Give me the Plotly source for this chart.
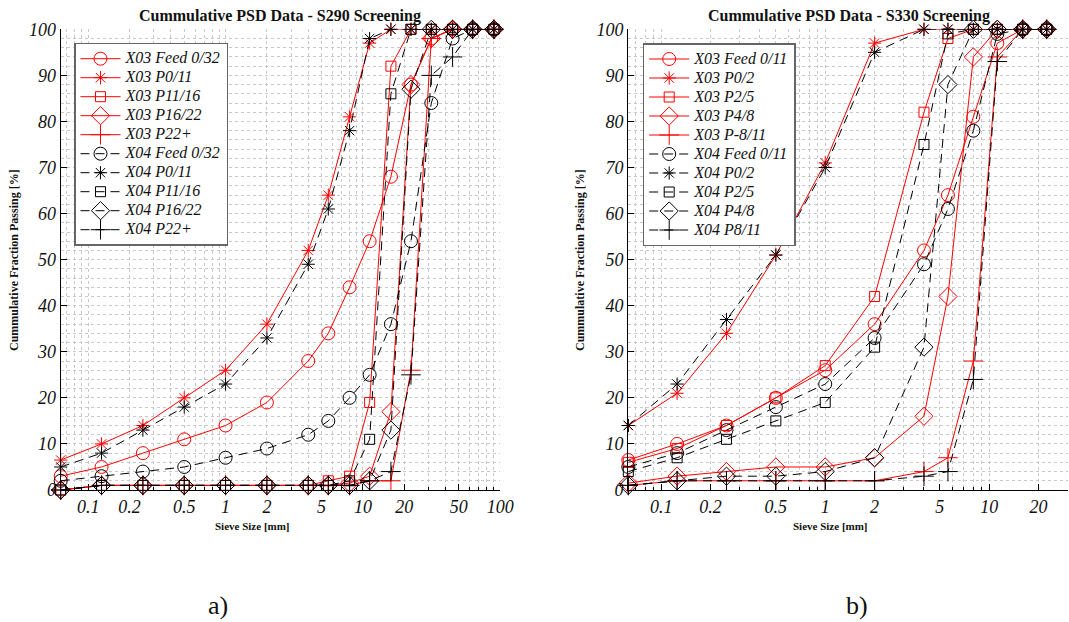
import math
import plotly.graph_objects as go

# Sieve apertures [mm]
sieve_s290 = [0.063, 0.125, 0.25, 0.5, 1, 2, 4, 5.6, 8, 11.2, 16, 22.4, 31.5, 45, 63, 90]
sieve_s330 = [0.063, 0.125, 0.25, 0.5, 1, 2, 4, 5.6, 8, 11.2, 16, 22.4]

# S290 screening - cumulative passing [%]
x03_feed_0_32 = [3, 5, 8, 11, 14, 19, 28, 34, 44, 54, 68, 88, 98, 100, 100, 100]
x03_p0_11 = [6.5, 10, 14, 20, 26, 36, 52, 64, 81, 97, 100, 100, 100, 100, 100, 100]
x03_p11_16 = [0, 1, 1, 1, 1, 1, 1, 2, 3, 19, 92, 100, 100, 100, 100, 100]
x03_p16_22 = [0, 1, 1, 1, 1, 1, 1, 1, 1.5, 3, 17, 88, 98, 100, 100, 100]
x03_p22p = [0, 1, 1, 1, 1, 1, 1, 1, 1, 2, 2, 26, 98, 100, 100, 100]
x04_feed_0_32 = [2, 3, 4, 5, 7, 9, 12, 15, 20, 25, 36, 54, 84, 98, 100, 100]
x04_p0_11 = [5, 8, 13, 18, 23, 33, 49, 61, 78, 98, 100, 100, 100, 100, 100, 100]
x04_p11_16 = [0, 1, 1, 1, 1, 1, 1, 1, 2, 11, 86, 100, 100, 100, 100, 100]
x04_p16_22 = [0, 1, 1, 1, 1, 1, 1, 1, 1, 2, 13, 87, 100, 100, 100, 100]
x04_p22p = [0, 1, 1, 1, 1, 1, 1, 1, 1, 2, 4, 25, 90, 94, 100, 100]

# S330 screening - cumulative passing [%]
x03_feed_0_11 = [6.5, 10, 14, 20, 26, 36, 52, 64, 81, 97, 100, 100]
x03_p0_2 = [14, 21, 34, 51, 71, 97, 100, 100, 100, 100, 100, 100]
x03_p2_5 = [6, 9, 14, 20, 27, 42, 82, 98, 100, 100, 100, 100]
x03_p4_8 = [1.5, 3, 4, 5, 5, 7, 16, 42, 94, 100, 100, 100]
x03_p8_11 = [1, 2, 2, 2, 2, 2, 4, 7, 28, 94, 100, 100]
x04_feed_0_11 = [5, 8, 13, 18, 23, 33, 49, 61, 78, 99, 100, 100]
x04_p0_2 = [14, 23, 37, 51, 70, 95, 100, 100, 100, 100, 100, 100]
x04_p2_5 = [4, 7, 11, 15, 19, 31, 75, 99, 100, 100, 100, 100]
x04_p4_8 = [1, 2, 3, 3, 4, 7, 31, 88, 100, 100, 100, 100]
x04_p8_11 = [1, 2, 2, 2, 2, 2, 3, 4, 24, 93, 100, 100]

labels_s290 = ["X03 Feed 0/32", "X03 P0/11", "X03 P11/16", "X03 P16/22", "X03 P22+",
               "X04 Feed 0/32", "X04 P0/11", "X04 P11/16", "X04 P16/22", "X04 P22+"]
labels_s330 = ["X03 Feed 0/11", "X03 P0/2", "X03 P2/5", "X03 P4/8", "X03 P-8/11",
               "X04 Feed 0/11", "X04 P0/2", "X04 P2/5", "X04 P4/8", "X04 P8/11"]

series_s290 = [x03_feed_0_32, x03_p0_11, x03_p11_16, x03_p16_22, x03_p22p,
               x04_feed_0_32, x04_p0_11, x04_p11_16, x04_p16_22, x04_p22p]
series_s330 = [x03_feed_0_11, x03_p0_2, x03_p2_5, x03_p4_8, x03_p8_11,
               x04_feed_0_11, x04_p0_2, x04_p2_5, x04_p4_8, x04_p8_11]

x_ticks_s290 = [0.1, 0.2, 0.5, 1, 2, 5, 10, 20, 50, 100]
x_ticks_s330 = [0.1, 0.2, 0.5, 1, 2, 5, 10, 20]
y_ticks = [0, 10, 20, 30, 40, 50, 60, 70, 80, 90, 100]

symbols = ["circle-open", "asterisk-open", "square-open", "diamond-open", "cross-thin-open"]
sizes = [13, 11, 10, 14, 14]

W, H = 1069, 622
SERIF = "Liberation Serif"
LEGEND_TEXT_PX = 16

fig = go.Figure()


def add_panel(sieve, series, labels, xaxis, yaxis, legend):
    for i, (vals, name) in enumerate(zip(series, labels)):
        k = i % 5
        x03 = i < 5
        color = "#ff0000" if x03 else "#000000"
        fig.add_trace(go.Scatter(
            x=sieve, y=vals, mode="lines+markers",
            name=f'<span style="font-size:{LEGEND_TEXT_PX}px">{name}</span>',
            xaxis=xaxis, yaxis=yaxis, legend=legend, cliponaxis=False,
            line=dict(color=color, width=1, dash="solid" if x03 else "9px,6px"),
            marker=dict(symbol=symbols[k], size=sizes[k], color=color,
                        line=dict(color=color, width=1)),
        ))


add_panel(sieve_s290, series_s290, labels_s290, "x", "y", "legend")
add_panel(sieve_s330, series_s330, labels_s330, "x2", "y2", "legend2")

grid = dict(showgrid=True, gridcolor="#c8c8c8", griddash="dot", gridwidth=1)
tickfont = dict(family=SERIF, size=18, color="#111", style="italic")


def xaxis_cfg(domain, xmax, ticks, anchor):
    return dict(
        type="log", domain=domain, range=[math.log10(0.063), math.log10(xmax)],
        anchor=anchor, automargin=False,
        tickvals=ticks, ticktext=[f"{t:g}" for t in ticks],
        ticks="inside", ticklen=6, tickcolor="#000", tickfont=tickfont,
        showline=True, linecolor="#000", linewidth=1.2, mirror=False,
        zeroline=False,
        minor=dict(ticks="inside", ticklen=3, tickcolor="#000", dtick="D1",
                   showgrid=True, gridcolor="#c8c8c8", griddash="dot", gridwidth=1),
        **grid,
    )


def yaxis_cfg(anchor):
    return dict(
        domain=[1 - 490 / H, 1 - 29.3 / H], range=[0, 100], anchor=anchor,
        automargin=False,
        tickvals=y_ticks, ticks="inside", ticklen=6, tickcolor="#000",
        tickfont=tickfont, showline=True, linecolor="#000", linewidth=1.2,
        zeroline=False, mirror=False,
        minor=dict(ticks="", dtick=2, showgrid=True, gridcolor="#c8c8c8",
                   griddash="dot", gridwidth=1),
        **grid,
    )


legend_style = dict(
    bgcolor="#ffffff", bordercolor="#666666", borderwidth=1.5,
    font=dict(family=SERIF, size=12, color="#111", style="italic"),
    xanchor="left", yanchor="top", tracegroupgap=0, itemwidth=40,
)


def px(xp):
    return xp / W


def py(yp):
    return 1 - yp / H


annotations = []
for text, x, y, size in [
    ("<b>Cummulative PSD Data - S290 Screening</b>", 280, 16, 16),
    ("<b>Cummulative PSD Data - S330 Screening</b>", 849, 16, 16),
    ("<b>Sieve Size [mm]</b>", 252, 526, 11),
    ("<b>Sieve Size [mm]</b>", 830, 526, 11),
    ("a)", 218, 605, 26),
    ("b)", 857, 605, 26),
]:
    annotations.append(dict(text=text, x=px(x), y=py(y), xref="paper", yref="paper",
                            xanchor="center", yanchor="middle", showarrow=False,
                            font=dict(family=SERIF, size=size, color="#111")))
for x in (14, 580):
    annotations.append(dict(text="<b>Cummulative Fraction Passing [%]</b>", x=px(x), y=py(260),
                            xref="paper", yref="paper", xanchor="center", yanchor="middle",
                            showarrow=False, textangle=-90,
                            font=dict(family=SERIF, size=12, color="#111")))

fig.update_layout(
    template="none",
    width=W, height=H, margin=dict(l=0, r=0, t=0, b=0, pad=0, autoexpand=False),
    paper_bgcolor="#ffffff", plot_bgcolor="#ffffff",
    xaxis=xaxis_cfg([60.7 / W, 500.2 / W], 100, x_ticks_s290, "y"),
    yaxis=yaxis_cfg("x"),
    xaxis2=xaxis_cfg([628.3 / W, 1067.5 / W], 30, x_ticks_s330, "y2"),
    yaxis2=yaxis_cfg("x2"),
    legend=dict(x=px(74), y=py(42.7), **legend_style),
    legend2=dict(x=px(642.7), y=py(43), **legend_style),
    annotations=annotations,
    showlegend=True,
)

fig.write_html("out.html")
